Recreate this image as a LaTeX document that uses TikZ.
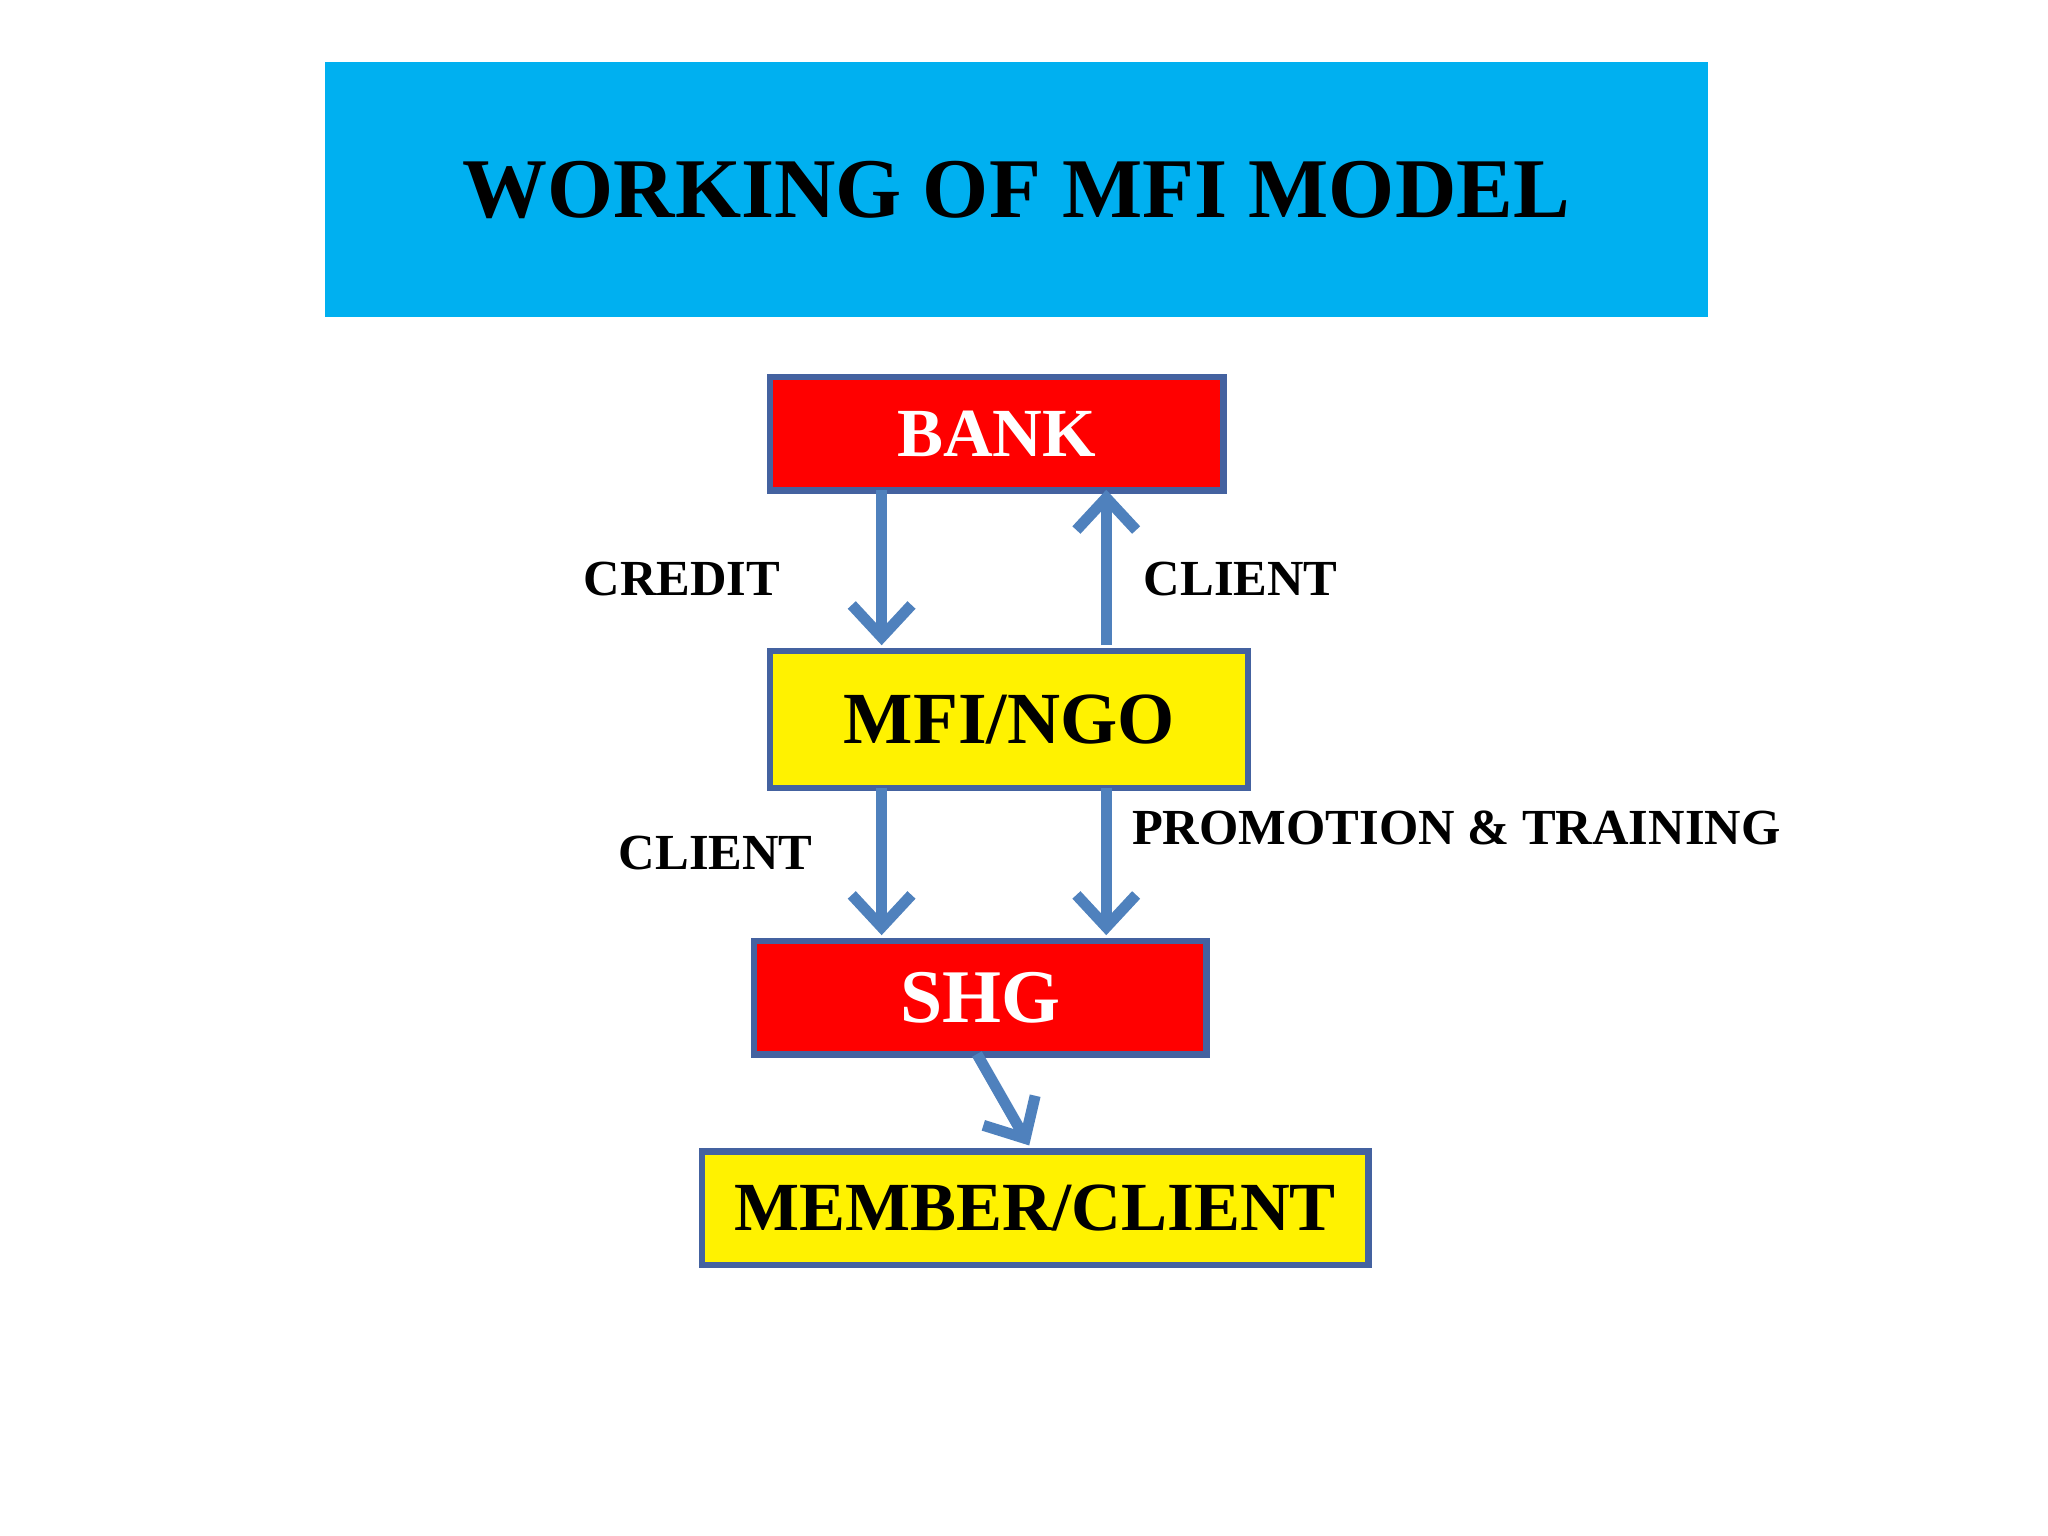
\documentclass[tikz,border=0pt]{standalone}
\usepackage{fontspec}
\setmainfont{Liberation Serif}
\usetikzlibrary{arrows.meta}
\definecolor{titlec}{RGB}{0,176,240}
\definecolor{boxb}{RGB}{68,98,160}
\definecolor{arr}{RGB}{79,129,189}
\tikzset{
 box/.style={draw=boxb,line width=1.4pt,inner sep=0pt,anchor=north west,font=\bfseries},
 flow/.style={draw=arr,line width=2.4pt,-{Straight Barb[length=7pt,width=13pt,line width=2.4pt]}},
 lbl/.style={font=\bfseries\fontsize{11}{13}\selectfont}
}
\begin{document}
\begin{tikzpicture}[x=0.01cm,y=-0.01cm]
\useasboundingbox (0,0) rectangle (1568,1176);
\node[fill=titlec,inner sep=0pt,anchor=north west,minimum width=10.58cm,minimum height=1.95cm,font=\bfseries\fontsize{18.5}{22}\selectfont] (title) at (248,47) {WORKING OF MFI MODEL};
\node[box,fill=red,text=white,minimum width=3.47cm,minimum height=0.87cm,font=\bfseries\fontsize{15}{18}\selectfont] (bank) at (587,286) {BANK};
\node[box,fill=yellow,minimum width=3.66cm,minimum height=1.05cm,font=\bfseries\fontsize{16}{19}\selectfont] (mfi) at (587,496) {MFI/NGO};
\node[box,fill=red,text=white,minimum width=3.46cm,minimum height=0.87cm,font=\bfseries\fontsize{16.5}{19}\selectfont] (shg) at (575,718) {SHG};
\node[box,fill=yellow,minimum width=5.10cm,minimum height=0.87cm,font=\bfseries\fontsize{15}{18}\selectfont] (mem) at (535,879) {MEMBER/CLIENT};
\coordinate (b1) at (675,375); \coordinate (m1) at (675,494);
\coordinate (b2) at (847,375); \coordinate (m2) at (847,494);
\coordinate (m3) at (675,603); \coordinate (s3) at (675,716);
\coordinate (m4) at (847,603); \coordinate (s4) at (847,716);
\coordinate (s5) at (748,807); \coordinate (e5) at (788,877);
\draw[flow] (b1) -- (m1);
\draw[flow] (m2) -- (b2);
\draw[flow] (m3) -- (s3);
\draw[flow] (m4) -- (s4);
\draw[flow] (s5) -- (e5);
\node[lbl] (l1) at (522,443) {CREDIT};
\node[lbl] (l2) at (950,443) {CLIENT};
\node[lbl] (l3) at (548,653) {CLIENT};
\node[lbl] (l4) at (1115,634) {PROMOTION \& TRAINING};
\end{tikzpicture}
\end{document}
